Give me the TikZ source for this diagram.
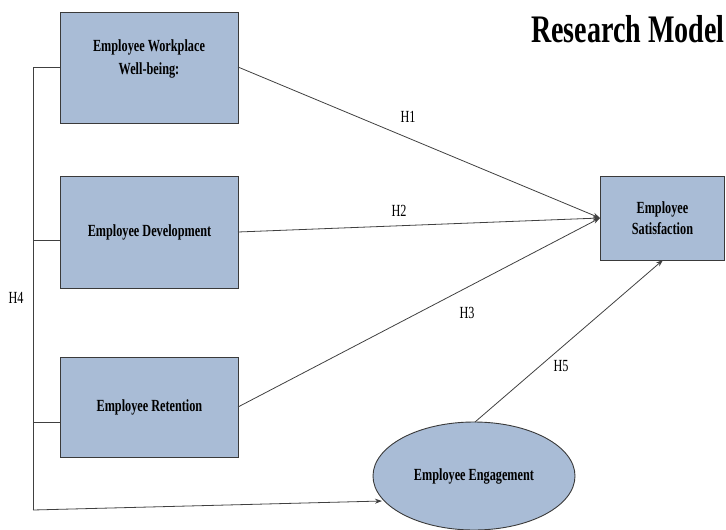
\documentclass[tikz,border=0pt]{standalone}
\usepackage{fontspec}
\setmainfont{Liberation Serif}[FakeStretch=0.72]
\usetikzlibrary{shapes.geometric,arrows.meta}
\definecolor{boxfill}{HTML}{A9BCD6}
\definecolor{boxedge}{HTML}{3A3A3A}
\tikzset{
  x=1pt,y=-1pt,
  cbox/.style={draw=boxedge,fill=boxfill,line width=0.9pt,minimum width=178pt,minimum height=100pt,inner sep=0pt,font=\fontsize{17}{22}\selectfont\bfseries,align=center,anchor=north west},
  conn/.style={draw=black!75,line width=0.8pt},
  arr/.style={conn,-{Stealth[length=7pt,width=5pt]}},
  hlab/.style={font=\fontsize{17}{20}\selectfont,inner sep=0pt}
}
\begin{document}
\begin{tikzpicture}
\useasboundingbox (0,0) rectangle (726,530);
% boxes
\node[cbox,minimum height=111pt] (wb) at (60,12) {};
\node[font=\fontsize{17}{23}\selectfont\bfseries,align=center,inner sep=0pt] (wbt) at (149,59) {Employee Workplace\\Well-being:};
\node[cbox,minimum height=112pt] (dev) at (60,176) {Employee Development};
\node[cbox,minimum height=100pt] (ret) at (60,357) {Employee Retention};
\node[cbox,minimum width=124pt,minimum height=84pt,font=\fontsize{17}{21}\selectfont\bfseries] (sat) at (600,176) {Employee\\Satisfaction};
\node[ellipse,draw=boxedge,fill=boxfill,line width=0.9pt,minimum width=202pt,minimum height=108pt,font=\fontsize{17}{20}\selectfont\bfseries] (eng) at (474,476) {Employee Engagement};
% title
\node[font=\fontsize{39}{44}\selectfont\bfseries,anchor=east,inner sep=0pt] (title) at (725,29) {Research Model};
% coordinates
\coordinate (sin) at (600,218);
\coordinate (w1) at (33,67);
\coordinate (w2) at (33,240);
\coordinate (w3) at (33,422);
\coordinate (w4) at (33,510);
\coordinate (wbR) at (238,67);
\coordinate (devR) at (238,232);
\coordinate (retR) at (238,407);
\coordinate (engT) at (475,422);
\coordinate (satB) at (663,260);
\coordinate (engL) at (382,501);
% arrows
\draw[arr] (wbR) -- (sin);
\draw[arr] (devR) -- (sin);
\draw[arr] (retR) -- (sin);
\draw[arr] (engT) -- (satB);
% H4 bracket
\draw[conn] (wb.west |- w1) -- (w1) -- (w4);
\draw[conn] (w2) -- (dev.west |- w2);
\draw[conn] (w3) -- (ret.west |- w3);
\draw[arr] (w4) -- (engL);
% labels
\node[hlab] (h1) at (408,117) {H1};
\node[hlab] (h2) at (399,211) {H2};
\node[hlab] (h3) at (467,313) {H3};
\node[hlab] (h4) at (16,298) {H4};
\node[hlab] (h5) at (561,366) {H5};
\end{tikzpicture}
\end{document}
